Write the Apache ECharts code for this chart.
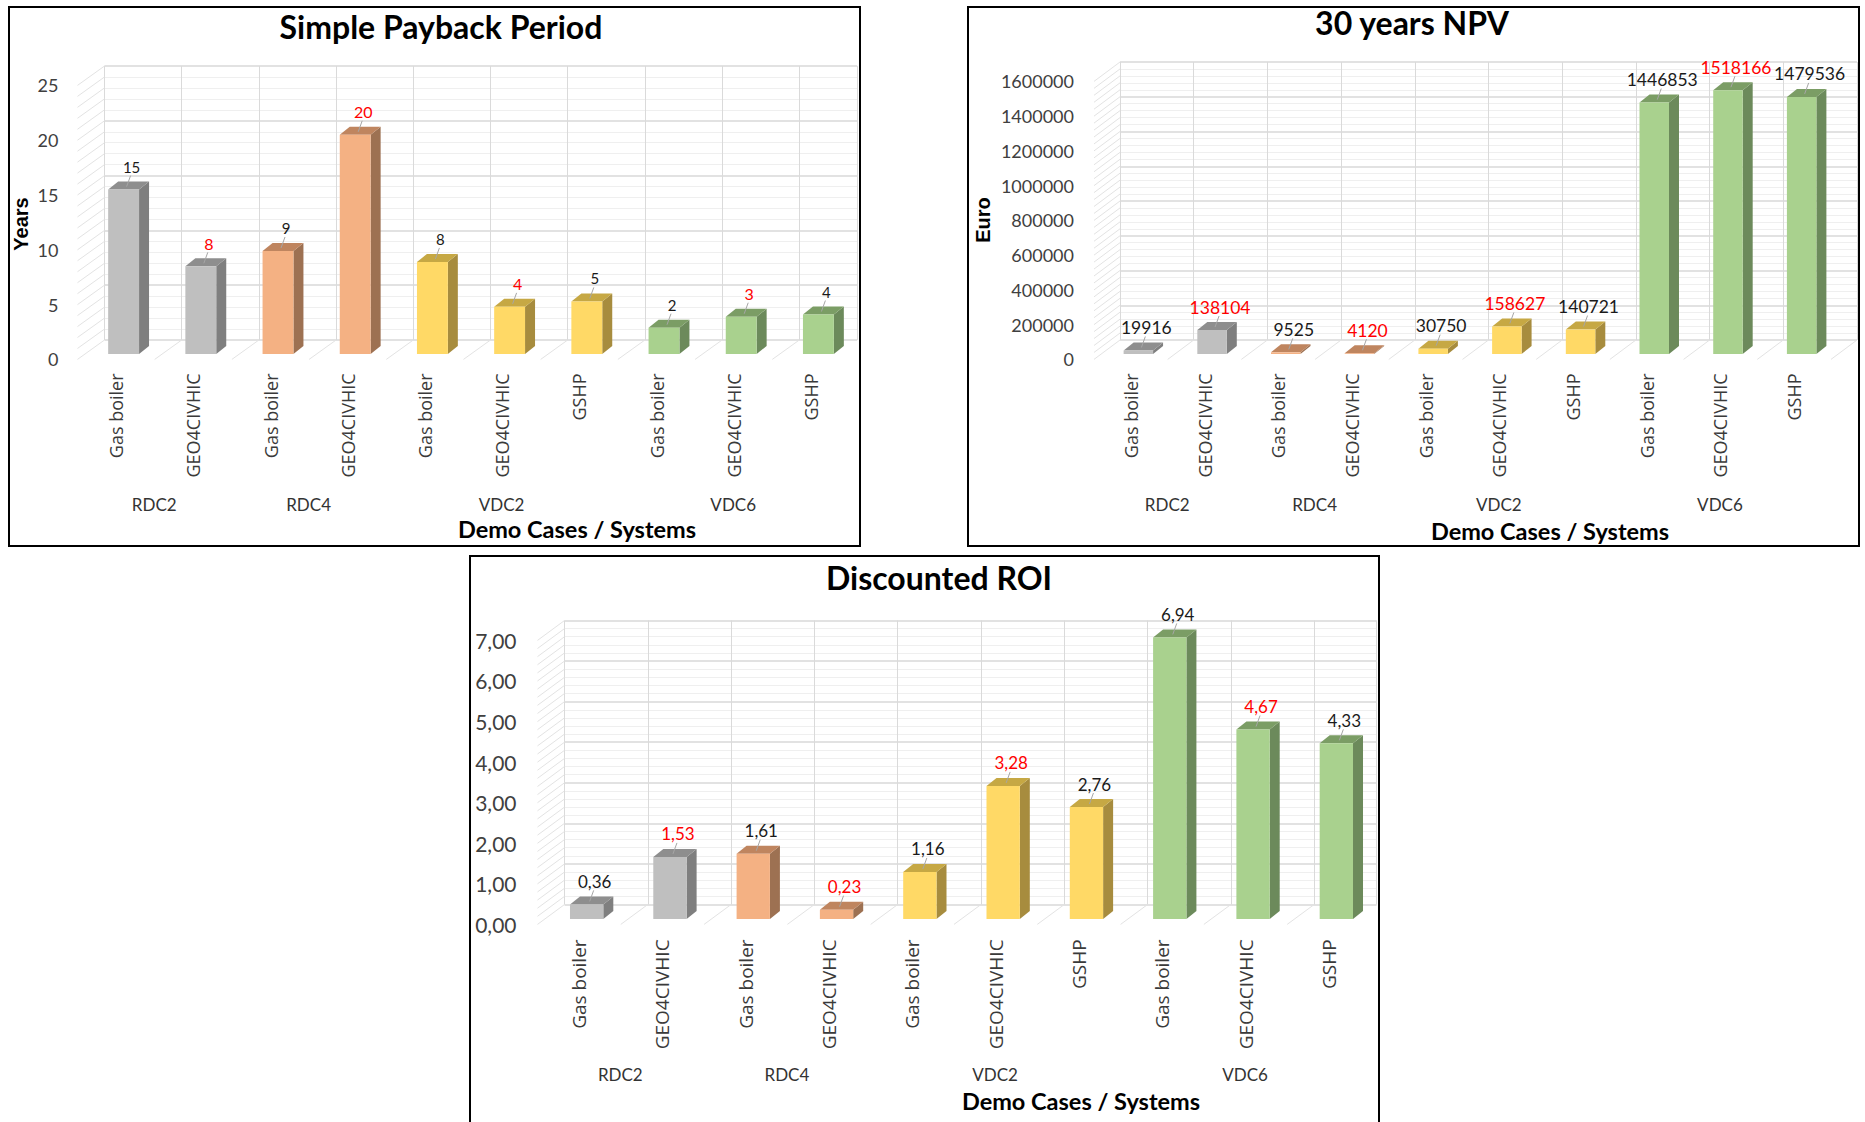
<!DOCTYPE html>
<html lang="en">
<head>
    <meta charset="UTF-8">
    <title>Payback / NPV / ROI</title>
    <script src="https://cdn.jsdelivr.net/npm/echarts@6/dist/echarts.min.js"></script>
    <style>
        html, body {margin:0; padding:0; background:#fff}
        #main {width:1865px; height:1122px}
    </style>
</head>
<body>
<div id="main"></div>
<script>
    // categories, same order in all three charts
    var systems = ['Gas boiler', 'GEO4CIVHIC', 'Gas boiler', 'GEO4CIVHIC', 'Gas boiler', 'GEO4CIVHIC', 'GSHP', 'Gas boiler', 'GEO4CIVHIC', 'GSHP'];
    var demoCases = ['RDC2', 'RDC4', 'VDC2', 'VDC6'];
    var caseSizes = [2, 2, 3, 3];

    // values (payback labels show rounded years)
    var payback = [15.0, 8.0, 9.4, 20.0, 8.4, 4.3, 4.8, 2.4, 3.4, 3.6];
    var npv = [19916, 138104, 9525, 4120, 30750, 158627, 140721, 1446853, 1518166, 1479536];
    var roi = [0.36, 1.53, 1.61, 0.23, 1.16, 3.28, 2.76, 6.94, 4.67, 4.33];

    // y scales: min, max, step
    var paybackScale = [0, 25, 5];
    var npvScale = [0, 1600000, 200000];
    var roiScale = [0, 7, 1];

    var palette = [
        {front: '#bfbfbf', side: '#7f7f7f', top: '#8e8e8e'},
        {front: '#f4b183', side: '#9d7152', top: '#bf855f'},
        {front: '#ffd966', side: '#a78c3e', top: '#c6a844'},
        {front: '#a9d18e', side: '#6c8a5b', top: '#7b9d65'}
    ];

    // which demo case each bar belongs to + middle of each case on the x axis
    var caseOf = [];
    var caseMid = {};
    var start = 0;
    caseSizes.forEach(function (n, k) {
        for (var j = 0; j < n; j++) caseOf.push(k);
        caseMid[(start + (n - 1) / 2).toFixed(1)] = demoCases[k];
        start += n;
    });

    function comma2(v) { return v.toFixed(2).replace('.', ','); }

    var panels = [
        {title: 'Simple Payback Period', titlePos: [441, 26], yName: 'Years', yNamePos: [21, 224],
            xNamePos: [577, 529], box: [9, 7, 851, 539],
            grid: {left: 85, top: 80, width: 772, height: 274},
            back: [19.5, -14], front: [-7.5, 5.4], backMax: 9.25,
            values: payback, scale: paybackScale,
            fmt: function (v) { return String(Math.round(v)); },
            tickFmt: function (v) { return String(v); },
            tickSize: 18, tickMargin: 19, labelSize: 15, redSize: 16, catSize: 18, catMargin: 14, groupMargin: 142},
        {title: '30 years NPV', titlePos: [1412, 22], yName: 'Euro', yNamePos: [983, 220],
            xNamePos: [1550, 531], box: [968, 7, 891, 539],
            grid: {left: 1101.5, top: 76, width: 737, height: 278},
            back: [18.5, -14], front: [-7.5, 5.4], backMax: 9.5,
            values: npv, scale: npvScale,
            fmt: function (v) { return String(v); },
            tickFmt: function (v) { return String(v); },
            tickSize: 18, tickMargin: 20, labelSize: 17.5, redSize: 17.5, catSize: 18, catMargin: 14, groupMargin: 142},
        {title: 'Discounted ROI', titlePos: [939, 577], yName: '', yNamePos: [0, 0],
            xNamePos: [1081, 1101], box: [470, 556, 909, 580],
            grid: {left: 545, top: 635, width: 833, height: 284},
            back: [19.5, -14.5], front: [-7.5, 5.4], backMax: 9.25,
            values: roi, scale: roiScale,
            fmt: comma2,
            tickFmt: comma2,
            tickSize: 21, tickMargin: 21, labelSize: 17, redSize: 17, catSize: 19, catMargin: 15, groupMargin: 147}
    ];

    function barItem(p) {
        return function (params, api) {
            var i = api.value(0), v = api.value(1);
            var base = api.coord([i, 0]);
            var top = api.coord([i, v]);
            var w = api.size([1, 0])[0] * 0.4;
            var dx = 10, dy = 8;
            var x0 = base[0] - w / 2, x1 = base[0] + w / 2, y0 = top[1], y1 = base[1];
            var c = palette[caseOf[i]];
            var red = systems[i] === 'GEO4CIVHIC';
            return {
                type: 'group',
                children: [
                    {type: 'polygon', shape: {points: [[x1, y0], [x1 + dx, y0 - dy], [x1 + dx, y1 - dy], [x1, y1]]}, style: {fill: c.side}},
                    {type: 'polygon', shape: {points: [[x0, y0], [x0 + dx, y0 - dy], [x1 + dx, y0 - dy], [x1, y0]]}, style: {fill: c.top}},
                    {type: 'rect', shape: {x: x0, y: y0, width: w, height: y1 - y0}, style: {fill: c.front}},
                    {type: 'line', shape: {x1: base[0] + 3, y1: y0 - 3, x2: base[0] + 7, y2: y0 - 14}, style: {stroke: '#a6a6a6', lineWidth: 1}},
                    {type: 'text', style: {text: p.fmt(v), x: base[0] + 8, y: y0 - 23,
                            fill: red ? '#ff0000' : '#1a1a1a', fontSize: red ? p.redSize : p.labelSize, fontFamily: 'Lato',
                            align: 'center', verticalAlign: 'middle'}}
                ]
            };
        };
    }

    // diagonal lines of the floor and the left wall (from back wall towards the viewer)
    function wallItem(p) {
        var d = [p.front[0] - p.back[0], p.front[1] - p.back[1]];
        return function (params, api) {
            var pt = api.coord([api.value(0), api.value(1)]);
            return {type: 'line', shape: {x1: pt[0], y1: pt[1], x2: pt[0] + d[0], y2: pt[1] + d[1]},
                style: {stroke: '#e3e3e3', lineWidth: 1}};
        };
    }

    var grid = [], xAxis = [], yAxis = [], series = [], graphic = [];
    var axisFont = 'Lato';

    panels.forEach(function (p, k) {
        var g = p.grid;
        var gMain = grid.length;
        grid.push({left: g.left, top: g.top, width: g.width, height: g.height});
        grid.push({left: g.left + p.front[0], top: g.top + p.front[1], width: g.width, height: g.height});
        grid.push({left: g.left + p.back[0], top: g.top + p.back[1], width: g.width * (p.backMax + 0.5) / 10, height: g.height});

        var xMain = xAxis.length;
        xAxis.push({type: 'category', gridIndex: gMain, data: systems, show: false});
        xAxis.push({
            type: 'value', gridIndex: gMain, min: -0.5, max: 9.5, interval: 0.5, position: 'bottom',
            axisLine: {show: false}, axisTick: {show: false}, splitLine: {show: false},
            axisLabel: {margin: p.groupMargin, fontFamily: axisFont, fontSize: 17, color: '#333',
                padding: [0, 16, 0, 0],
                formatter: function (v) { return caseMid[v.toFixed(1)] || ''; }}
        });
        // system names sit on the front edge of the floor
        xAxis.push({
            type: 'category', gridIndex: gMain + 1, data: systems,
            axisLine: {show: false}, axisTick: {show: false},
            axisLabel: {rotate: 90, interval: 0, margin: p.catMargin, fontFamily: 'Open Sans', fontSize: p.catSize,
                color: '#3a3a3a'}
        });
        var xBack = xAxis.length;
        xAxis.push({
            type: 'value', gridIndex: gMain + 2, min: -0.5, max: p.backMax, interval: 1,
            axisLine: {show: false}, axisTick: {show: false}, axisLabel: {show: false},
            splitLine: {show: true, lineStyle: {color: '#dadada', width: 1}}
        });

        var yMain = yAxis.length;
        yAxis.push({type: 'value', gridIndex: gMain, min: p.scale[0], max: p.scale[1], interval: p.scale[2], show: false});
        yAxis.push({
            type: 'value', gridIndex: gMain + 1, min: p.scale[0], max: p.scale[1], interval: p.scale[2],
            axisLine: {show: false}, axisTick: {show: false}, splitLine: {show: false},
            axisLabel: {margin: p.tickMargin, fontFamily: axisFont, fontSize: p.tickSize, color: '#404040',
                formatter: p.tickFmt}
        });
        var yBack = yAxis.length;
        yAxis.push({
            type: 'value', gridIndex: gMain + 2, min: p.scale[0], max: p.scale[1], interval: p.scale[2],
            axisLine: {show: false}, axisTick: {show: false}, axisLabel: {show: false},
            minorTick: {show: false, splitNumber: 5},
            splitLine: {show: true, lineStyle: {color: '#d9d9d9', width: 1.5}},
            minorSplitLine: {show: true, lineStyle: {color: '#efefef', width: 1}}
        });

        // wall diagonals: floor at each category border, left wall at each minor step
        var wall = [];
        for (var b = -0.5; b <= p.backMax + 1e-9; b += 1) wall.push([b, p.scale[0]]);
        var step = p.scale[2] / 5;
        for (var s = 1; p.scale[0] + s * step <= p.scale[1] + 1e-9; s++) wall.push([-0.5, p.scale[0] + s * step]);
        series.push({
            type: 'custom', xAxisIndex: xBack, yAxisIndex: yBack, silent: true, z: 1,
            renderItem: wallItem(p), data: wall
        });

        series.push({
            type: 'custom', name: p.title, xAxisIndex: xMain, yAxisIndex: yMain, silent: true, z: 5,
            renderItem: barItem(p),
            data: p.values.map(function (v, i) { return [i, v]; })
        });

        graphic.push({type: 'rect', shape: {x: p.box[0], y: p.box[1], width: p.box[2], height: p.box[3]},
            style: {fill: 'none', stroke: '#000', lineWidth: 2}, z: 100});
        graphic.push({type: 'text', x: p.titlePos[0], y: p.titlePos[1],
            style: {text: p.title, fontFamily: 'Lato', fontWeight: 'bold', fontSize: 32, fill: '#000',
                align: 'center', verticalAlign: 'middle'}});
        graphic.push({type: 'text', x: p.xNamePos[0], y: p.xNamePos[1],
            style: {text: 'Demo Cases / Systems', fontFamily: 'Lato', fontWeight: 'bold', fontSize: 23.5, fill: '#000',
                align: 'center', verticalAlign: 'middle'}});
        if (p.yName) {
            graphic.push({type: 'text', x: p.yNamePos[0], y: p.yNamePos[1], rotation: Math.PI / 2,
                style: {text: p.yName, fontFamily: 'Liberation Sans', fontWeight: 'bold', fontSize: 20, fill: '#000',
                    align: 'center', verticalAlign: 'middle'}});
        }
    });

    var chart = echarts.init(document.getElementById('main'), null, {renderer: 'svg'});
    chart.setOption({
        animation: false,
        backgroundColor: '#fff',
        grid: grid,
        xAxis: xAxis,
        yAxis: yAxis,
        series: series,
        graphic: graphic
    });
</script>
</body>
</html>
